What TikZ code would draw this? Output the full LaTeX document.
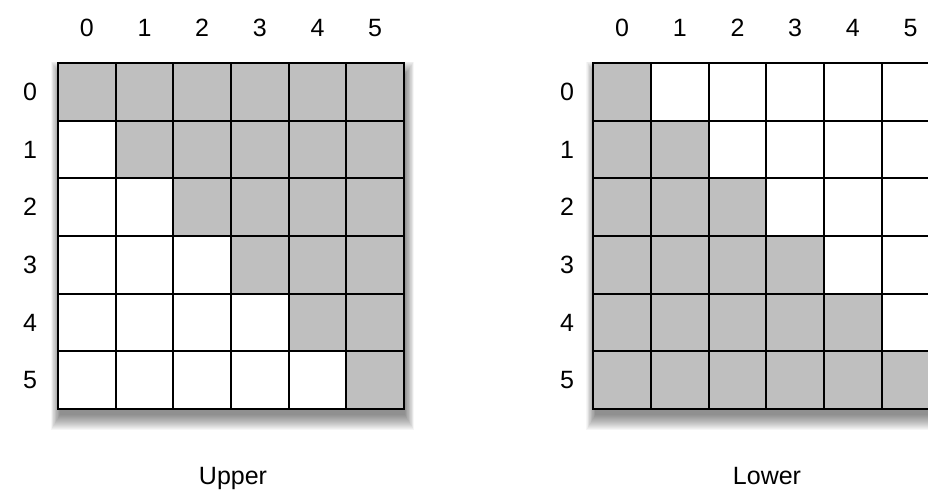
\documentclass[tikz,border=0pt]{standalone}
\usepackage{fontspec}
\setmainfont{Liberation Sans}
\definecolor{cellgray}{RGB}{191,191,191}
\begin{document}
\begin{tikzpicture}[x=1pt,y=-1pt,
  cellbox/.style={draw=black,line width=2.2pt,rectangle,minimum size=57.67pt,inner sep=0pt,fill=white},
  shaded/.style={cellbox,fill=cellgray},
  lbl/.style={font=\fontsize{25}{30}\selectfont,inner sep=0pt},
  caption/.style={font=\fontsize{25}{30}\selectfont,inner sep=0pt,anchor=base}]
\useasboundingbox (0,0) rectangle (928,490);
\clip (0,0) rectangle (928,490);
\def\s{57.67}
% shadows
\foreach \ox in {58,593.3}{
  \foreach \k in {0,...,15}{
    \fill[black,opacity=0.035] (\ox+2-\k*0.6,63+12-\k*0.9) rectangle (\ox+346+1+\k*0.6,409+6+\k);
  }
}
% matrices
\foreach \r in {0,...,5}{
  \foreach \c in {0,...,5}{
    \ifnum\c<\r
      \node[cellbox] (u-\r-\c) at (58+\s*\c+\s/2,63+\s*\r+\s/2) {};
    \else
      \node[shaded] (u-\r-\c) at (58+\s*\c+\s/2,63+\s*\r+\s/2) {};
    \fi
    \ifnum\c>\r
      \node[cellbox] (l-\r-\c) at (593.3+\s*\c+\s/2,63+\s*\r+\s/2) {};
    \else
      \node[shaded] (l-\r-\c) at (593.3+\s*\c+\s/2,63+\s*\r+\s/2) {};
    \fi
  }
}
% labels
\foreach \i in {0,...,5}{
  \node[lbl] (uc-\i) at (58+\s*\i+\s/2,28) {\i};
  \node[lbl] (ur-\i) at (30,63+\s*\i+\s/2) {\i};
  \node[lbl] (lc-\i) at (593.3+\s*\i+\s/2,28) {\i};
  \node[lbl] (lr-\i) at (567,63+\s*\i+\s/2) {\i};
}
\node[caption] (upper) at (233,484) {Upper};
\node[caption] (lower) at (767,484) {Lower};
\end{tikzpicture}
\end{document}
